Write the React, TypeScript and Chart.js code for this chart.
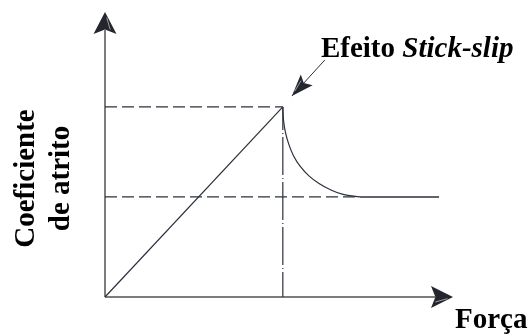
import { useEffect, useRef } from "react";
import { Chart, registerables } from "chart.js";

Chart.register(...registerables);

// Axis extents (arbitrary units: force on x, friction coefficient on y)
const xMax = 10;
const yMax = 10;

// Static friction peak and kinetic plateau
const peakForce = 5.11;
const staticCoef = 6.67;
const kineticCoef = 3.51;

// Linear rise from the origin up to the static peak
const riseX = [0, peakForce];
const riseY = [0, staticCoef];

// Drop from the static peak towards the kinetic level
const decayX = [5.11, 5.13, 5.19, 5.29, 5.42, 5.6, 5.86, 6.15, 6.45, 6.84, 7.33];
const decayY = [6.67, 6.2, 5.75, 5.33, 4.95, 4.6, 4.25, 3.98, 3.78, 3.6, 3.51];

// Kinetic plateau
const plateauX = [7.33, 9.6];
const plateauY = [kineticCoef, kineticCoef];

// Callout arrow: tail and tip
const calloutX = [6.32, 5.37];
const calloutY = [8.32, 7.05];

// Labels
const yTitle = ["Coeficiente", "de atrito"];
const xTitle = "Força";
const calloutPlain = "Efeito ";
const calloutItalic = "Stick-slip";

const LINE = "#2b303b";
const AXIS = "#7d7d7d";
const HEAD = "#23262d";
const FONT = '"Liberation Serif", "Times New Roman", serif';
const SIZE = 29;

const pts = (xs: number[], ys: number[]) => xs.map((x, i) => ({ x, y: ys[i] }));

function stealth(
  ctx: CanvasRenderingContext2D,
  fromX: number,
  fromY: number,
  tipX: number,
  tipY: number,
  len: number,
  half: number
) {
  const dx = tipX - fromX;
  const dy = tipY - fromY;
  const d = Math.hypot(dx, dy) || 1;
  const ux = dx / d;
  const uy = dy / d;
  const px = -uy;
  const py = ux;
  const bx = tipX - ux * len;
  const by = tipY - uy * len;
  const nx = tipX - ux * len * 0.8;
  const ny = tipY - uy * len * 0.8;
  ctx.beginPath();
  ctx.moveTo(tipX, tipY);
  ctx.lineTo(bx + px * half, by + py * half);
  ctx.lineTo(nx, ny);
  ctx.lineTo(bx - px * half, by - py * half);
  ctx.closePath();
  ctx.fillStyle = HEAD;
  ctx.fill();
  // thin highlight along one back edge
  ctx.beginPath();
  ctx.moveTo(tipX - ux * len * 0.25 + px * half * 0.15, tipY - uy * len * 0.25 + py * half * 0.15);
  ctx.lineTo(nx + px * half * 0.45, ny + py * half * 0.45);
  ctx.strokeStyle = "rgba(255,255,255,0.7)";
  ctx.lineWidth = 0.8;
  ctx.stroke();
}

const decorations = {
  id: "decorations",
  beforeDatasetsDraw(chart: any) {
    const { ctx, scales } = chart;
    const x = scales.x;
    const y = scales.y;
    const ox = x.getPixelForValue(0);
    const oy = y.getPixelForValue(0);
    const xe = x.getPixelForValue(xMax);
    const ye = y.getPixelForValue(yMax);
    ctx.save();
    ctx.strokeStyle = AXIS;
    ctx.lineWidth = 2;
    ctx.beginPath();
    ctx.moveTo(ox, oy);
    ctx.lineTo(ox, ye + 18);
    ctx.moveTo(ox, oy);
    ctx.lineTo(xe - 18, oy);
    ctx.stroke();
    ctx.restore();
  },
  afterDatasetsDraw(chart: any) {
    const { ctx, scales } = chart;
    const x = scales.x;
    const y = scales.y;
    const ox = x.getPixelForValue(0);
    const oy = y.getPixelForValue(0);
    const xe = x.getPixelForValue(xMax);
    const ye = y.getPixelForValue(yMax);
    ctx.save();
    stealth(ctx, ox, oy, ox, ye, 22, 11.5);
    stealth(ctx, ox, oy, xe, oy, 22, 11);

    // callout arrow
    const tx = x.getPixelForValue(calloutX[0]);
    const ty = y.getPixelForValue(calloutY[0]);
    const hx = x.getPixelForValue(calloutX[1]);
    const hy = y.getPixelForValue(calloutY[1]);
    ctx.strokeStyle = LINE;
    ctx.lineWidth = 1;
    ctx.beginPath();
    ctx.moveTo(tx, ty);
    ctx.lineTo(hx, hy);
    ctx.stroke();
    stealth(ctx, tx, ty, hx, hy, 22, 8);

    // callout text
    ctx.fillStyle = "#000";
    ctx.textBaseline = "alphabetic";
    ctx.textAlign = "left";
    ctx.font = `bold ${SIZE}px ${FONT}`;
    const cx0 = tx - 4;
    const cy0 = ty - 3;
    ctx.fillText(calloutPlain, cx0, cy0);
    const w = ctx.measureText(calloutPlain).width;
    ctx.font = `italic bold ${SIZE}px ${FONT}`;
    ctx.fillText(calloutItalic, cx0 + w, cy0);

    // x title
    ctx.font = `bold ${SIZE}px ${FONT}`;
    ctx.fillText(xTitle, xe + 2, oy + 31);

    // y title, rotated
    ctx.save();
    ctx.translate(0, (oy + ye) / 2 + 24);
    ctx.rotate(-Math.PI / 2);
    ctx.textAlign = "center";
    ctx.fillText(yTitle[0], 0, 34);
    ctx.fillText(yTitle[1], 0, 69);
    ctx.restore();
    ctx.restore();
  },
};

export default function App() {
  const ref = useRef<HTMLCanvasElement | null>(null);

  useEffect(() => {
    if (!ref.current) return;
    const solid = { borderColor: LINE, borderWidth: 1.2, pointRadius: 0, fill: false, clip: false as any };
    const chart = new Chart(ref.current, {
      type: "line",
      data: {
        datasets: [
          { ...solid, data: pts(riseX, riseY) },
          { ...solid, data: pts(decayX, decayY), tension: 0.4 },
          { ...solid, data: pts(plateauX, plateauY), borderWidth: 1.4 },
          {
            ...solid,
            data: pts([0, peakForce], [staticCoef, staticCoef]),
            borderDash: [12, 5],
          },
          {
            ...solid,
            data: pts([0, decayX[decayX.length - 1]], [kineticCoef, kineticCoef]),
            borderDash: [12, 5],
          },
          {
            ...solid,
            data: pts([peakForce, peakForce], [0, staticCoef]),
            borderDash: [38, 3, 1, 3],
            borderDashOffset: 13,
          },
        ],
      },
      options: {
        responsive: false,
        animation: false,
        layout: { padding: { left: 105, right: 75, top: 12, bottom: 37 } },
        plugins: { legend: { display: false }, tooltip: { enabled: false } },
        scales: {
          x: { type: "linear", min: 0, max: xMax, display: false },
          y: { type: "linear", min: 0, max: yMax, display: false },
        },
      },
      plugins: [decorations],
    });
    return () => chart.destroy();
  }, []);

  return (
    <div style={{ position: "fixed", left: 0, top: 0, width: 528, height: 334, background: "#fff" }}>
      <canvas ref={ref} width={528} height={334} />
    </div>
  );
}
